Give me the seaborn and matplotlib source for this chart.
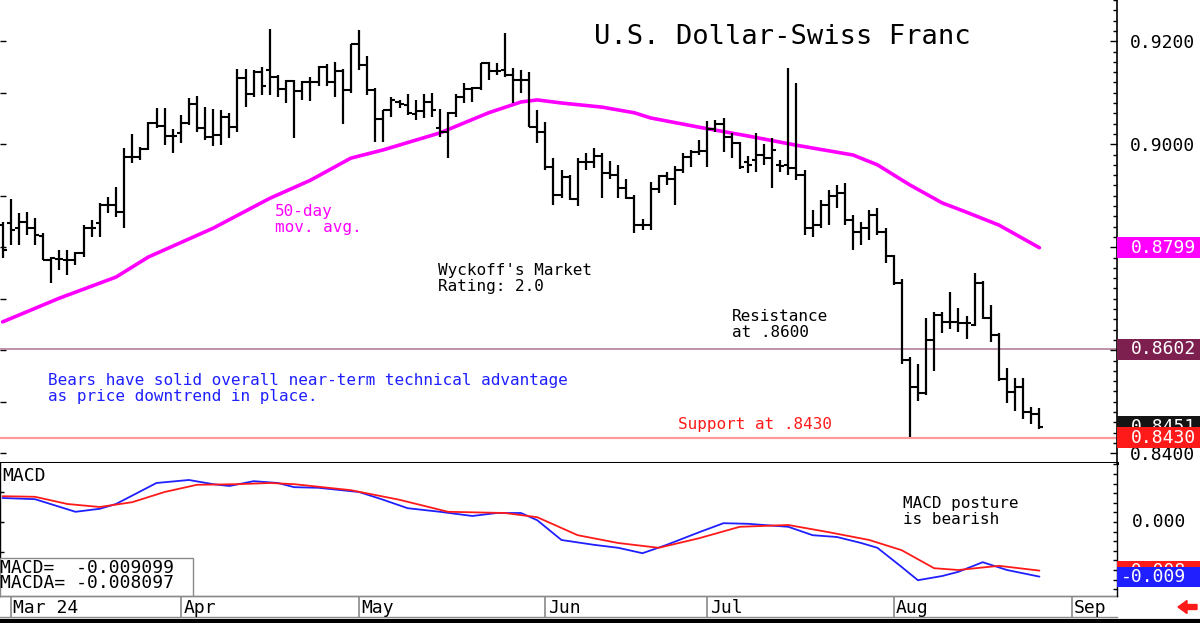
import numpy as np
import pandas as pd
import matplotlib
matplotlib.use("Agg")
import matplotlib.pyplot as plt
import seaborn as sns
from matplotlib.patches import Rectangle, FancyArrow
from matplotlib.lines import Line2D
from matplotlib.transforms import blended_transform_factory, IdentityTransform
from matplotlib.ticker import MultipleLocator, FixedLocator

# ---------------- data (USD/CHF daily bars, first bar 2024-02-29) ----------------
first_day = "2024-02-29"
opens = [0.8843,0.8847,0.8837,0.8849,0.8837,0.8822,0.8775,0.8777,0.8775,0.8775,
         0.8789,0.8837,0.8847,0.8882,0.8882,0.8868,0.8975,0.8975,0.8991,0.9041,
         0.9035,0.9016,0.9022,0.9041,0.9078,0.9031,0.9014,0.9018,0.9053,0.9033,
         0.9129,0.9097,0.9140,0.9144,0.9130,0.9107,0.9123,0.9103,0.9121,0.9121,
         0.9150,0.9121,0.9142,0.9105,0.9195,0.9154,0.9105,0.9049,0.9066,0.9082,
         0.9076,0.9059,0.9064,0.9082,0.9031,0.9024,0.9061,0.9092,0.9107,0.9109,
         0.9158,0.9142,0.9144,0.9134,0.9125,0.9125,0.9033,0.9024,0.8956,0.8901,
         0.8936,0.8894,0.8965,0.8965,0.8977,0.8944,0.8940,0.8915,0.8895,0.8843,
         0.8843,0.8913,0.8938,0.8932,0.8950,0.8975,0.8985,0.8987,0.9029,0.9039,
         0.9014,0.9002,0.8965,0.8969,0.8979,0.8973,0.8960,0.8960,0.8954,0.8940,
         0.8837,0.8843,0.8882,0.8899,0.8905,0.8853,0.8829,0.8837,0.8862,0.8829,
         0.8783,0.8730,0.8581,0.8528,0.8517,0.8620,0.8668,0.8655,0.8655,0.8653,
         0.8649,0.8730,0.8662,0.8629,0.8544,0.8519,0.8528,0.8480,0.8476]
highs = [0.8849,0.8894,0.8866,0.8868,0.8857,0.8828,0.8781,0.8795,0.8795,0.8791,
         0.8843,0.8853,0.8886,0.8897,0.8917,0.8993,0.9020,0.8995,0.9043,0.9070,
         0.9070,0.9029,0.9057,0.9090,0.9094,0.9072,0.9068,0.9066,0.9061,0.9146,
         0.9146,0.9144,0.9150,0.9224,0.9134,0.9125,0.9125,0.9123,0.9130,0.9152,
         0.9156,0.9160,0.9146,0.9195,0.9222,0.9171,0.9109,0.9066,0.9092,0.9086,
         0.9097,0.9086,0.9097,0.9099,0.9068,0.9063,0.9097,0.9119,0.9111,0.9158,
         0.9160,0.9158,0.9216,0.9148,0.9144,0.9140,0.9066,0.9043,0.8973,0.8950,
         0.8940,0.8973,0.8983,0.8993,0.8983,0.8967,0.8960,0.8932,0.8901,0.8855,
         0.8927,0.8940,0.8946,0.8958,0.8983,0.8989,0.9008,0.9045,0.9047,0.9051,
         0.9022,0.9004,0.8977,0.9022,0.9000,0.9012,0.8969,0.9148,0.9119,0.8950,
         0.8872,0.8892,0.8911,0.8921,0.8925,0.8862,0.8849,0.8872,0.8876,0.8837,
         0.8785,0.8738,0.8587,0.8573,0.8662,0.8674,0.8674,0.8713,0.8682,0.8666,
         0.8750,0.8734,0.8688,0.8633,0.8565,0.8546,0.8546,0.8490,0.8488]
lows = [0.8779,0.8804,0.8804,0.8824,0.8804,0.8775,0.8730,0.8756,0.8746,0.8765,
        0.8781,0.8820,0.8820,0.8866,0.8859,0.8837,0.8963,0.8969,0.8989,0.9031,
        0.8998,0.8983,0.9002,0.9037,0.9024,0.9008,0.8996,0.8998,0.9012,0.9024,
        0.9072,0.9092,0.9096,0.9096,0.9092,0.9080,0.9012,0.9086,0.9084,0.9113,
        0.9113,0.9092,0.9039,0.9099,0.9144,0.9096,0.9004,0.9004,0.9053,0.9070,
        0.9057,0.9047,0.9051,0.9053,0.9014,0.8973,0.9053,0.9080,0.9082,0.9105,
        0.9125,0.9134,0.9130,0.9080,0.9099,0.9033,0.9002,0.8950,0.8882,0.8895,
        0.8892,0.8880,0.8950,0.8954,0.8895,0.8932,0.8895,0.8894,0.8828,0.8833,
        0.8833,0.8905,0.8921,0.8882,0.8944,0.8956,0.8979,0.8956,0.9024,0.8985,
        0.8973,0.8952,0.8944,0.8946,0.8960,0.8915,0.8946,0.8940,0.8930,0.8824,
        0.8820,0.8837,0.8843,0.8876,0.8843,0.8795,0.8804,0.8814,0.8824,0.8769,
        0.8727,0.8573,0.8431,0.8501,0.8513,0.8560,0.8633,0.8641,0.8635,0.8622,
        0.8647,0.8660,0.8616,0.8540,0.8497,0.8482,0.8466,0.8457,0.8447]
closes = [0.8795,0.8833,0.8849,0.8837,0.8824,0.8775,0.8779,0.8777,0.8775,0.8789,
          0.8837,0.8837,0.8882,0.8882,0.8868,0.8975,0.8975,0.8991,0.9041,0.9035,
          0.9016,0.9016,0.9041,0.9078,0.9031,0.9014,0.9018,0.9053,0.9033,0.9129,
          0.9097,0.9140,0.9113,0.9130,0.9107,0.9123,0.9103,0.9121,0.9121,0.9150,
          0.9121,0.9142,0.9105,0.9195,0.9154,0.9105,0.9049,0.9066,0.9086,0.9078,
          0.9061,0.9064,0.9082,0.9066,0.9024,0.9061,0.9092,0.9107,0.9109,0.9158,
          0.9142,0.9142,0.9134,0.9125,0.9125,0.9033,0.9024,0.8956,0.8901,0.8936,
          0.8894,0.8965,0.8965,0.8977,0.8944,0.8940,0.8915,0.8895,0.8843,0.8843,
          0.8913,0.8938,0.8932,0.8950,0.8975,0.8985,0.8987,0.9029,0.9039,0.9014,
          0.9002,0.8956,0.8960,0.8979,0.8973,0.8989,0.8958,0.8954,0.8940,0.8837,
          0.8843,0.8882,0.8899,0.8905,0.8853,0.8829,0.8837,0.8862,0.8829,0.8783,
          0.8730,0.8581,0.8528,0.8517,0.8620,0.8668,0.8655,0.8655,0.8653,0.8653,
          0.8730,0.8662,0.8629,0.8544,0.8519,0.8528,0.8480,0.8476,0.8451]

# 50-day moving average, read at bar positions
ma_bar = [0, 7, 14, 18, 26, 33, 38, 43, 47, 54, 60, 64, 66, 69, 74, 78, 80, 86,
          92, 98, 105, 108, 112, 116, 119, 123, 128]
ma_vals = [0.8655, 0.8701, 0.8742, 0.8781, 0.8837, 0.8895, 0.8930, 0.8973, 0.8989,
           0.9022, 0.9061, 0.9082, 0.9086, 0.9080, 0.9072, 0.9061, 0.9051, 0.9033,
           0.9016, 0.8998, 0.8979, 0.8960, 0.8921, 0.8886, 0.8868, 0.8843, 0.8799]

# MACD (blue) and MACD average (red), read at bar positions
macd_bar = [0, 4, 9, 12, 14, 19, 23, 26, 28, 31, 34, 36, 39, 44, 47, 50, 54, 58, 61,
            64, 66, 69, 73, 76, 79, 82, 86, 89, 92, 97, 100, 103, 106, 108, 111, 113,
            116, 118, 121, 124, 128]
macd_vals = [0.0040, 0.0038, 0.0017, 0.0022, 0.0030, 0.0065, 0.0070, 0.0063, 0.0060,
             0.0068, 0.0065, 0.0058, 0.0057, 0.0050, 0.0037, 0.0023, 0.0017, 0.0010,
             0.0015, 0.0015, 0.0003, -0.0030, -0.0038, -0.0043, -0.0052, -0.0038,
             -0.0017, -0.0002, -0.0003, -0.0008, -0.0022, -0.0025, -0.0035, -0.0043,
             -0.0075, -0.0097, -0.0090, -0.0083, -0.0067, -0.0080, -0.0091]
macda_bar = [0, 4, 8, 12, 16, 20, 24, 29, 33, 36, 43, 49, 55, 62, 66, 71, 76, 81, 86,
             91, 97, 102, 107, 111, 115, 118, 123, 128]
macda_vals = [0.0043, 0.0042, 0.0030, 0.0025, 0.0033, 0.0050, 0.0062, 0.0063, 0.0065,
              0.0063, 0.0053, 0.0037, 0.0017, 0.0015, 0.0008, -0.0022, -0.0035,
              -0.0043, -0.0027, -0.0008, -0.0005, -0.0017, -0.0030, -0.0047, -0.0077,
              -0.0080, -0.0073, -0.0081]

price_ticks = [0.8400, 0.8600, 0.8800, 0.9000, 0.9200]
price_tick_labels = ["0.8400", "", "", "0.9000", "0.9200"]   # 0.86 / 0.88 sit under value boxes
resistance = 0.8602
support = 0.8430
ma_last = 0.8799
last_close = 0.8451
macd_last = -0.009099
macda_last = -0.008097
month_labels = ["Mar 24", "Apr", "May", "Jun", "Jul", "Aug", "Sep"]
month_numbers = [3, 4, 5, 6, 7, 8, 9]

# ---------------- style ----------------
sns.set_theme(style="white")
plt.rcParams["font.family"] = ["DejaVu Sans Mono", "DejaVu Sans"]
plt.rcParams["axes.linewidth"] = 1.0

W, H = 1200, 623
fig = plt.figure(figsize=(W / 100, H / 100), dpi=100)
fig.patch.set_facecolor("white")

PX_L, PX_R = 2.6, 8.1          # position of first bar, pixels per bar
plot_w = 1117
xlim = (-PX_L / PX_R, (plot_w - PX_L) / PX_R)

ax1 = fig.add_axes([0, (H - 463) / H, plot_w / W, 463 / H])
ax2 = fig.add_axes([0, (H - 596) / H, plot_w / W, 133 / H])
ax3 = fig.add_axes([0, (H - 617) / H, plot_w / W, 21 / H])

n = len(closes)
idx = np.arange(n)
axis_dates = pd.bdate_range(first_day, "2024-09-30")

# ---------------- price panel ----------------
p_ylim = (0.8381, 0.9280)
ax1.vlines(idx, lows, highs, color="black", lw=1.6, zorder=3)
ax1.hlines(opens, idx - 0.5, idx, color="black", lw=1.5, zorder=3)
ax1.hlines(closes, idx, idx + 0.5, color="black", lw=1.5, zorder=3)
sns.lineplot(x=ma_bar, y=ma_vals, ax=ax1, color="#ff00ff", lw=2.6, sort=False,
             estimator=None, zorder=2)
ax1.axhline(resistance, color="#b98aa3", lw=1.3, zorder=1)
ax1.axhline(support, color="#ff9a9a", lw=1.6, zorder=1)
ax1.set_xlim(*xlim)
ax1.set_ylim(*p_ylim)
ax1.set_xticks([])
ax1.set_xlabel("")
ax1.set_ylabel("")
ax1.yaxis.set_major_locator(MultipleLocator(0.01))
ax1.tick_params(axis="y", direction="in", length=4, width=1, left=True,
                labelleft=False, right=False, colors="black")
for s in ["top", "right", "left"]:
    ax1.spines[s].set_visible(False)
ax1.spines["bottom"].set_color("black")
ax1.spines["bottom"].set_linewidth(2.2)
ax1.grid(False)

ax1r = ax1.twinx()
ax1r.set_ylim(*p_ylim)
ax1r.yaxis.set_major_locator(FixedLocator(price_ticks))
ax1r.set_yticklabels(price_tick_labels)
ax1r.yaxis.set_minor_locator(MultipleLocator(0.002))
ax1r.tick_params(axis="y", which="major", direction="in", length=5, width=1,
                 labelsize=13, pad=9, colors="black")
ax1r.tick_params(axis="y", which="minor", direction="in", length=3, width=1,
                 right=True, colors="black")
for s in ["top", "left", "bottom"]:
    ax1r.spines[s].set_visible(False)
ax1r.spines["right"].set_color("black")
ax1r.spines["right"].set_linewidth(1.2)
ax1r.grid(False)


def value_box(ax, value, text, fc, h_px, ax_h_px, ylim, text_px, ha, z):
    trans = blended_transform_factory(ax.transAxes, ax.transData)
    h = h_px * (ylim[1] - ylim[0]) / ax_h_px
    ax.add_patch(Rectangle((1.0, value - h / 2), (W - plot_w) / plot_w, h,
                           transform=trans, fc=fc, ec="none", clip_on=False, zorder=z))
    ax.text(text_px / plot_w, value, text, transform=trans, color="white",
            fontsize=13, va="center", ha=ha, zorder=z + 0.5, clip_on=False)


value_box(ax1r, ma_last, f"{ma_last:.4f}", "#ff00ff", 21, 463, p_ylim, 1131, "left", 4)
value_box(ax1r, resistance, f"{resistance:.4f}", "#7d2050", 21, 463, p_ylim, 1131, "left", 4)
value_box(ax1r, last_close, f"{last_close:.4f}", "#141414", 21, 463, p_ylim, 1131, "left", 4)
value_box(ax1r, support, f"{support:.4f}", "#ff1a1a", 21, 463, p_ylim, 1131, "left", 6)


def px(xp, yp, h=463):
    return xp / plot_w, 1 - yp / h


T1 = ax1.transAxes
ax1.text(*px(594, 24), "U.S. Dollar-Swiss Franc", transform=T1, fontsize=19.5,
         color="black", ha="left", va="top")
ax1.text(*px(275, 204), "50-day\nmov. avg.", transform=T1, fontsize=11.5,
         color="#ff00ff", ha="left", va="top", linespacing=1.05)
ax1.text(*px(438, 263), "Wyckoff's Market\nRating: 2.0", transform=T1, fontsize=11.5,
         color="black", ha="left", va="top", linespacing=1.05)
ax1.text(*px(732, 309), "Resistance\nat .8600", transform=T1, fontsize=11.5,
         color="black", ha="left", va="top", linespacing=1.05)
ax1.text(*px(48, 373), "Bears have solid overall near-term technical advantage\n"
         "as price downtrend in place.", transform=T1, fontsize=11.5, color="#1f1fff",
         ha="left", va="top", linespacing=1.05)
ax1.text(*px(678, 417), "Support at .8430", transform=T1, fontsize=11.5,
         color="#ff1a1a", ha="left", va="top")

# ---------------- MACD panel ----------------
m_ylim = (-0.01233, 0.00983)
sns.lineplot(x=macd_bar, y=macd_vals, ax=ax2, color="#1f1fff", lw=1.3, sort=False,
             estimator=None)
sns.lineplot(x=macda_bar, y=macda_vals, ax=ax2, color="#ff1a1a", lw=1.3, sort=False,
             estimator=None)
ax2.set_xlim(*xlim)
ax2.set_ylim(*m_ylim)
ax2.set_xticks([])
ax2.set_xlabel("")
ax2.set_ylabel("")
ax2.yaxis.set_major_locator(MultipleLocator(0.005))
ax2.tick_params(axis="y", direction="in", length=3, width=1, left=True,
                labelleft=False, right=False, colors="black")
ax2.spines["top"].set_visible(False)
ax2.spines["right"].set_visible(False)
ax2.spines["left"].set_color("black")
ax2.spines["bottom"].set_color("#8a8a8a")
ax2.grid(False)

ax2r = ax2.twinx()
ax2r.set_ylim(*m_ylim)
ax2r.yaxis.set_major_locator(FixedLocator([0.0]))
ax2r.set_yticklabels([""])
ax2r.yaxis.set_minor_locator(MultipleLocator(0.0016))
ax2r.tick_params(axis="y", which="both", direction="in", length=3, width=1,
                 colors="black")
for s in ["top", "left", "bottom"]:
    ax2r.spines[s].set_visible(False)
ax2r.spines["right"].set_color("black")
ax2r.grid(False)
trans2 = blended_transform_factory(ax2r.transAxes, ax2r.transData)
ax2r.text(1186 / plot_w, 0.0, f"{0.0:.3f}", transform=trans2, fontsize=13,
          color="black", ha="right", va="center", clip_on=False)
value_box(ax2r, macda_last, f"{macda_last:.3f}", "#ff1a1a", 20, 133, m_ylim, 1186, "right", 4)
value_box(ax2r, macd_last, f"{macd_last:.3f}", "#1f1fff", 20, 133, m_ylim, 1186, "right", 6)

T2 = ax2.transAxes
ax2.text(2 / plot_w, 1 - 4 / 133, "MACD", transform=T2, fontsize=13,
         color="black", ha="left", va="top")
ax2.text(903 / plot_w, 1 - 33 / 133, "MACD posture\nis bearish", transform=T2,
         fontsize=11.5, color="black", ha="left", va="top", linespacing=1.05)

ax2.add_patch(Rectangle((0, 0), 193 / plot_w, 38 / 133, transform=T2,
                        fc="white", ec="#8a8a8a", lw=1, zorder=4))
ax2.text(0.5 / plot_w, 1 - 105 / 133, f"MACD=  {macd_last:.6f}", transform=T2,
         fontsize=13, color="black", ha="left", va="center", zorder=5)
ax2.text(0.5 / plot_w, 1 - 120 / 133, f"MACDA= {macda_last:.6f}", transform=T2,
         fontsize=13, color="black", ha="left", va="center", zorder=5)

# ---------------- date strip ----------------
month_pos = [int(np.argmax(axis_dates.month == m)) for m in month_numbers]
ax3.set_xlim(*xlim)
ax3.set_ylim(0, 1)
ax3.set_xticks([])
ax3.set_yticks([])
ax3.vlines(month_pos, 0, 1, color="#8a8a8a", lw=1.2)
for pos, lab in zip(month_pos, month_labels):
    ax3.text(pos + 0.3, 0.45, lab, fontsize=13, color="black", ha="left", va="center")
for s in ["left", "right"]:
    ax3.spines[s].set_visible(False)
for s in ["top", "bottom"]:
    ax3.spines[s].set_color("#8a8a8a")
ax3.patch.set_alpha(0)

fig.add_artist(Line2D([0, 1], [(H - 620.5) / H] * 2, transform=fig.transFigure,
                      color="black", lw=3))
fig.add_artist(FancyArrow(1197, H - 607, -19, 0, width=5, head_width=13,
                          head_length=9, length_includes_head=True, color="#ff1a1a",
                          transform=IdentityTransform()))

fig.savefig("out.png", dpi=100, facecolor="white")
